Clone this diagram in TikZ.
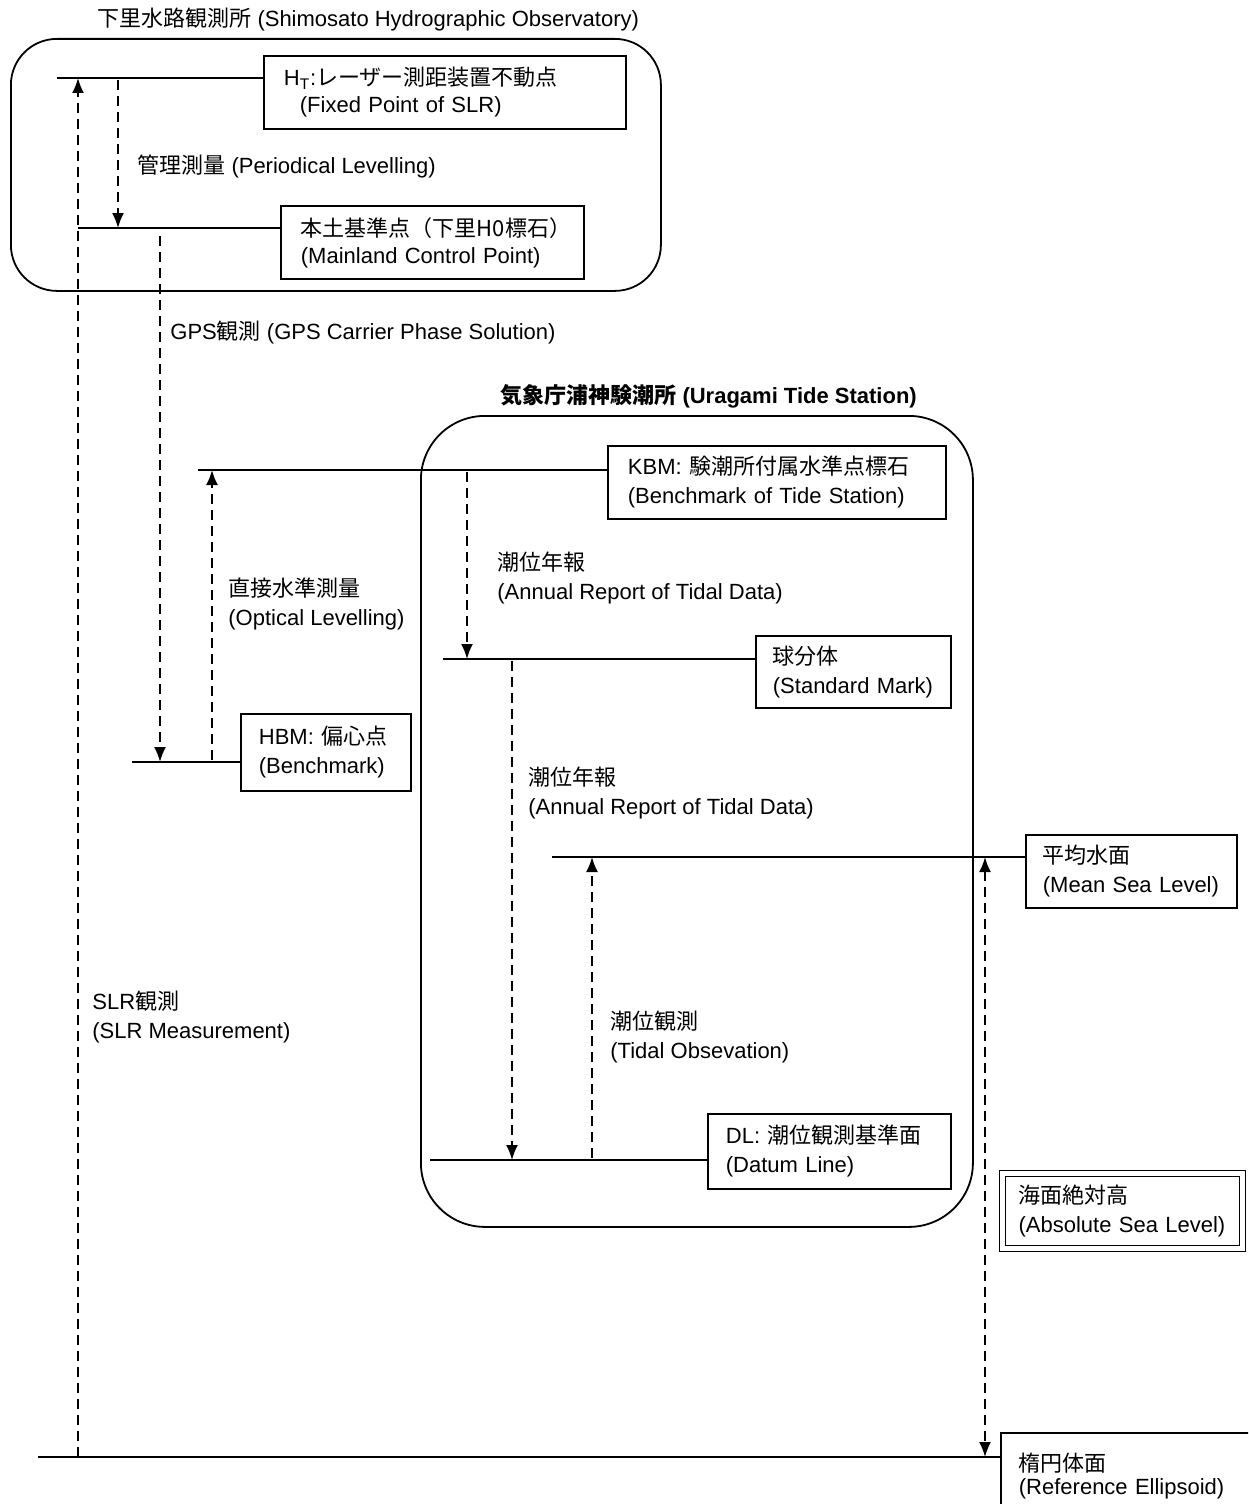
\documentclass[tikz,border=0pt]{standalone}
\usepackage{fontspec}
\setmainfont{Liberation Sans}
\newfontfamily\cjk{Noto Sans CJK JP}
\newcommand\jp[1]{{\cjk #1}}
\usetikzlibrary{arrows.meta}
\begin{document}
\begin{tikzpicture}[x=0.5pt,y=-0.5pt,
  every node/.style={font=\fontsize{11}{14.5}\selectfont},
  bx/.style={draw, line width=0.9pt, anchor=north west, align=left, inner xsep=8.5pt, inner ysep=0pt},
  grp/.style={draw, line width=0.9pt, anchor=north west, inner sep=0pt},
  lvl/.style={line width=0.9pt},
  arr/.style={line width=0.9pt, dash pattern=on 5pt off 3pt, -{Latex[length=7.5pt,width=6pt]}},
  arrb/.style={line width=0.9pt, dash pattern=on 5pt off 3pt, {Latex[length=7.5pt,width=6pt]}-{Latex[length=7.5pt,width=6pt]}},
  lbl/.style={anchor=west, align=left, inner sep=0pt}]
\useasboundingbox (0,0) rectangle (1248,1504);
\clip (0,0) rectangle (1248,1504);
\fill[white] (0,0) rectangle (1248,1504);

% group frames
\node[grp, rounded corners=23pt, minimum width=325pt, minimum height=126pt] (shimo) at (10,38) {};
\node[lbl] (shimoT) at (97,20) {\jp{下里水路観測所} (Shimosato Hydrographic Observatory)};
\node[grp, rounded corners=32pt, minimum width=276pt, minimum height=405.5pt] (ura) at (420,415) {};
\node[lbl, font=\fontsize{11}{14.5}\selectfont\bfseries] (uraT) at (500,396) {\jp{\bfseries 気象庁浦神験潮所} (Uragami Tide Station)};

% boxes
\node[bx, inner xsep=10pt, text width=161pt, minimum height=36.5pt] (ht) at (263,55)
  {H\textsubscript{T}:\jp{レーザー測距装置不動点}\\[-1pt]\hspace*{8pt}(Fixed Point of SLR)};
\node[bx, inner xsep=10pt, text width=131.5pt, minimum height=36.5pt] (main) at (280,205)
  {\jp{本土基準点（下里H0標石）}\\[-1pt](Mainland Control Point)};
\node[bx, inner xsep=10pt, text width=149pt, minimum height=36.5pt] (kbm) at (607,445)
  {KBM: \jp{験潮所付属水準点標石}\\(Benchmark of Tide Station)};
\node[bx, text width=80.5pt, minimum height=36pt] (std) at (755,635)
  {\jp{球分体}\\(Standard Mark)};
\node[bx, inner xsep=9pt, text width=67pt, minimum height=38.5pt] (hbm) at (240,713)
  {HBM: \jp{偏心点}\\(Benchmark)};
\node[bx, text width=88.5pt, minimum height=36.5pt] (msl) at (1025,834)
  {\jp{平均水面}\\(Mean Sea Level)};
\node[bx, inner xsep=9pt, text width=103.5pt, minimum height=37.5pt] (dl) at (707,1113)
  {DL: \jp{潮位観測基準面}\\(Datum Line)};
\node[bx, line width=0.6pt, double, double distance=2.2pt, text width=104pt, inner xsep=8pt, minimum height=37.5pt] (abs) at (1002,1173)
  {\jp{海面絶対高}\\(Absolute Sea Level)};
\node[bx, text width=140pt, inner xsep=9pt, minimum height=43pt] (ell) at (1000,1432)
  {\jp{楕円体面}\\[-3pt](Reference Ellipsoid)};

% level lines
\coordinate (htL) at (57,78);
\coordinate (mainL) at (78,228);
\coordinate (kbmL) at (198,470);
\coordinate (stdL) at (443,659);
\coordinate (hbmL) at (132,762);
\coordinate (mslL) at (552,857);
\coordinate (dlL) at (430,1160);
\coordinate (ellL) at (38,1457);
\draw[lvl] (htL) -- (htL -| ht.west);
\draw[lvl] (mainL) -- (mainL -| main.west);
\draw[lvl] (kbmL) -- (kbmL -| kbm.west);
\draw[lvl] (stdL) -- (stdL -| std.west);
\draw[lvl] (hbmL) -- (hbmL -| hbm.west);
\draw[lvl] (mslL) -- (mslL -| msl.west);
\draw[lvl] (dlL) -- (dlL -| dl.west);
\draw[lvl] (ellL) -- (ellL -| ell.west);

% measurement arrows
\coordinate (slrS) at (78,1457);   \coordinate (slrE) at (78,78);
\coordinate (kanS) at (118,80);    \coordinate (kanE) at (118,228);
\coordinate (gpsS) at (160,236);   \coordinate (gpsE) at (160,762);
\coordinate (optS) at (212,760);   \coordinate (optE) at (212,470);
\coordinate (ar1S) at (467,472);   \coordinate (ar1E) at (467,659);
\coordinate (ar2S) at (512,661);   \coordinate (ar2E) at (512,1160);
\coordinate (tidS) at (592,1158);  \coordinate (tidE) at (592,857);
\coordinate (absS) at (985,857);   \coordinate (absE) at (985,1457);
\draw[arr] (slrS) -- (slrE);
\draw[arr] (kanS) -- (kanE);
\draw[arr] (gpsS) -- (gpsE);
\draw[arr] (optS) -- (optE);
\draw[arr] (ar1S) -- (ar1E);
\draw[arr] (ar2S) -- (ar2E);
\draw[arr] (tidS) -- (tidE);
\draw[arrb] (absS) -- (absE);

% labels
\node[lbl] (lbKan) at (137,166) {\jp{管理測量} (Periodical Levelling)};
\node[lbl] (lbGps) at (170,333) {GPS\jp{観測} (GPS Carrier Phase Solution)};
\node[lbl] (lbOpt) at (228,603.5) {\jp{直接水準測量}\\(Optical Levelling)};
\node[lbl] (lbAr1) at (497,578) {\jp{潮位年報}\\(Annual Report of Tidal Data)};
\node[lbl] (lbAr2) at (528,793) {\jp{潮位年報}\\(Annual Report of Tidal Data)};
\node[lbl] (lbTid) at (610,1037) {\jp{潮位観測}\\(Tidal Obsevation)};
\node[lbl] (lbSlr) at (92,1017) {SLR\jp{観測}\\(SLR Measurement)};
\end{tikzpicture}
\end{document}
